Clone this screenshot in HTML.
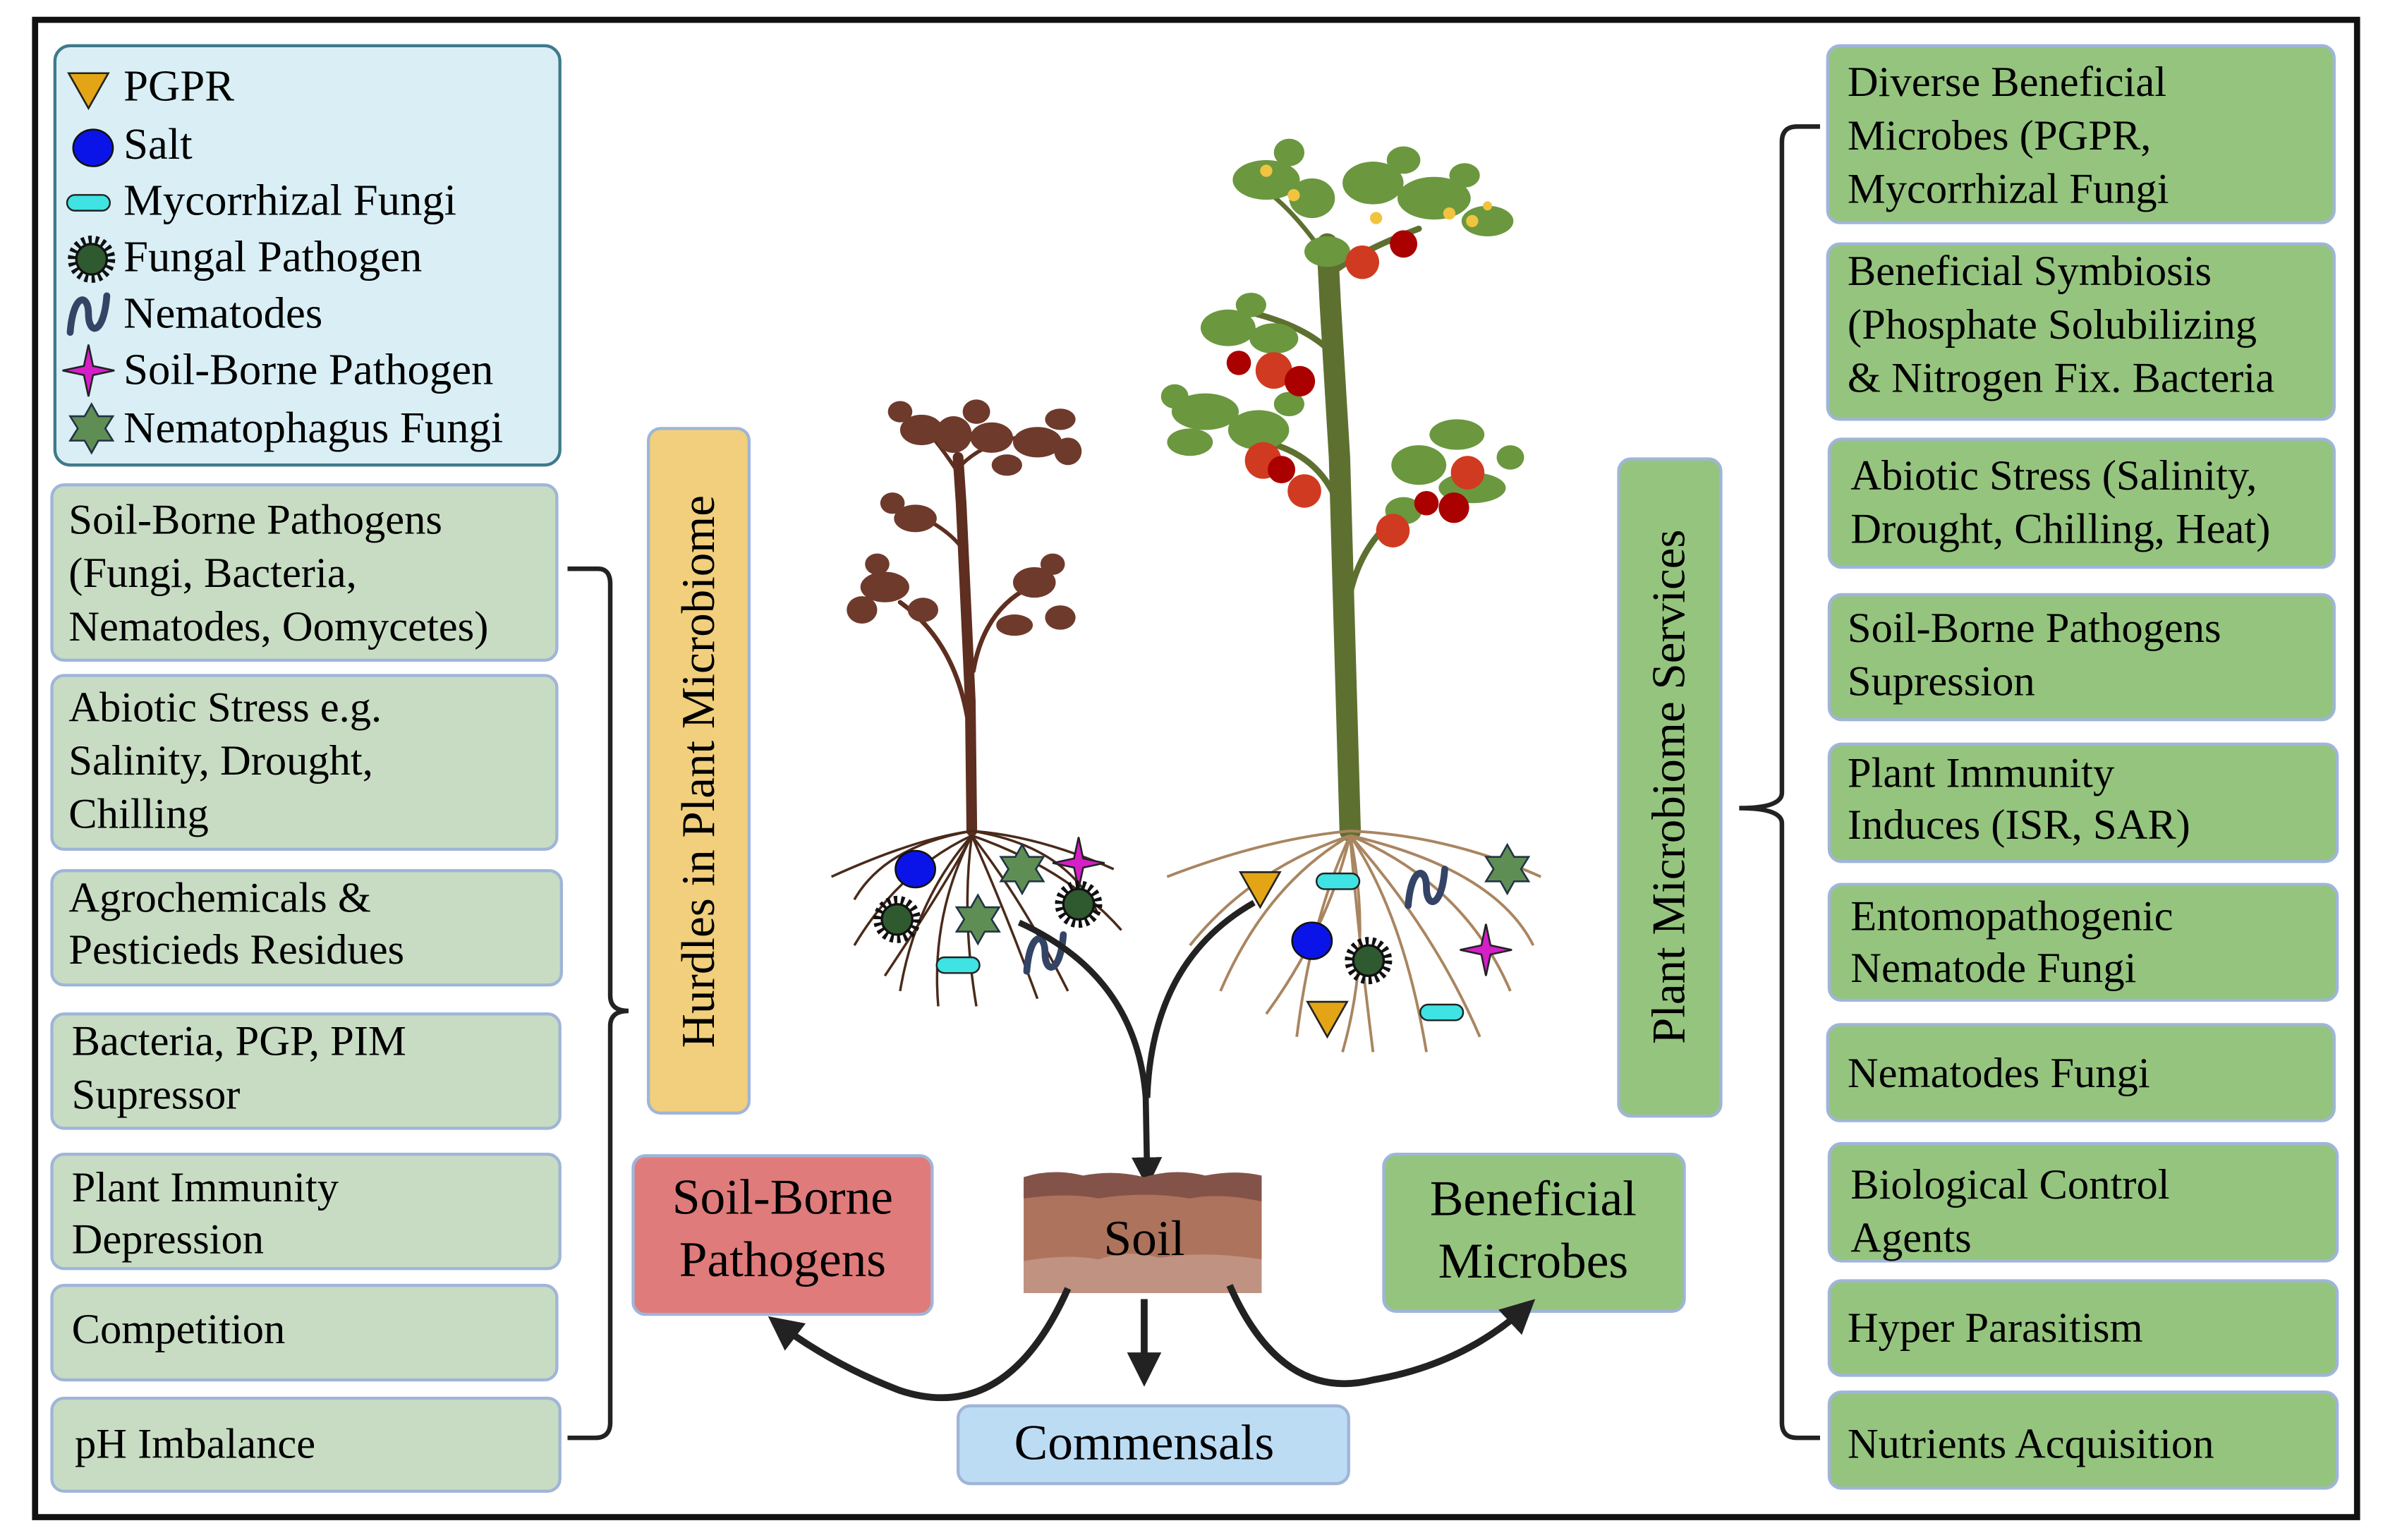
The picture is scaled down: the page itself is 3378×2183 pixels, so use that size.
<!DOCTYPE html>
<html><head><meta charset="utf-8"><style>
html,body{margin:0;padding:0;background:#fff;}
svg{display:block;}
text{font-family:"Liberation Serif",serif;fill:#000;}
</style></head><body>
<svg width="3378" height="2183" viewBox="0 0 1562 1010" preserveAspectRatio="none" xmlns="http://www.w3.org/2000/svg">
<defs>
<symbol id="tri" viewBox="-14 -14 28 28" overflow="visible"><polygon points="-13,-11 13,-11 0,12" fill="#e3a516" stroke="#222" stroke-width="1.2"/></symbol>
<symbol id="salt" viewBox="-14 -14 28 28" overflow="visible"><ellipse cx="0" cy="0" rx="13" ry="12" fill="#0a14e8" stroke="#111" stroke-width="1.2"/></symbol>
<symbol id="myco" viewBox="-16 -6 32 12" overflow="visible"><rect x="-15" y="-5.5" width="30" height="11" rx="5.5" fill="#3fe3e3" stroke="#222" stroke-width="1.2"/></symbol>
<symbol id="fung" viewBox="-16 -16 32 32" overflow="visible"><circle r="12" fill="none" stroke="#111" stroke-width="7" stroke-dasharray="2 2.2"/><circle r="10" fill="#2f5a2f" stroke="#111" stroke-width="1.5"/></symbol>
<symbol id="nema" viewBox="-14 -16 28 32" overflow="visible"><path d="M-12,12 C-10,-14 0,-14 0,0 C0,14 10,14 12,-12" fill="none" stroke="#334466" stroke-width="4.5" stroke-linecap="round"/></symbol>
<symbol id="spark" viewBox="-18 -18 36 36" overflow="visible"><path d="M0,-17 L3,-3 L17,0 L3,3 L0,17 L-3,3 L-17,0 L-3,-3 Z" fill="#d51fc7" stroke="#222" stroke-width="1.2"/></symbol>
<symbol id="star" viewBox="-17 -17 34 34" overflow="visible"><polygon points="0,-16 4.5,-8 14,-8 9,0 14,8 4.5,8 0,16 -4.5,8 -14,8 -9,0 -14,-8 -4.5,-8" fill="#5e8e54" stroke="#234" stroke-width="1.2"/></symbol>
<marker id="ah" viewBox="0 0 10 10" refX="8" refY="5" markerWidth="5" markerHeight="5" orient="auto"><path d="M0,0 L10,5 L0,10 Z" fill="#222"/></marker>
</defs>

<rect x="23" y="13" width="1522" height="982" fill="#fff" stroke="#111" stroke-width="4"/>

<rect x="36" y="30" width="331" height="275" rx="10" fill="#d9eff5" stroke="#3f7a8a" stroke-width="2"/>
<use href="#tri" x="44" y="45" width="28" height="28"/>
<use href="#salt" x="47" y="83" width="28" height="28"/>
<use href="#myco" x="43" y="127" width="30" height="12"/>
<use href="#fung" x="44" y="154" width="32" height="32"/>
<use href="#nema" x="44" y="190" width="28" height="32"/>
<use href="#spark" x="40" y="225" width="36" height="36"/>
<use href="#star" x="43" y="264" width="34" height="34"/>
<g font-size="29">
<text x="81" y="66">PGPR</text>
<text x="81" y="104">Salt</text>
<text x="81" y="141">Mycorrhizal Fungi</text>
<text x="81" y="178">Fungal Pathogen</text>
<text x="81" y="215">Nematodes</text>
<text x="81" y="252">Soil-Borne Pathogen</text>
<text x="81" y="290">Nematophagus Fungi</text>
</g>

<g fill="#c8dcc4" stroke="#9fb5d8" stroke-width="2">
<rect x="34" y="318" width="331" height="115" rx="8"/>
<rect x="34" y="443" width="331" height="114" rx="8"/>
<rect x="34" y="571" width="334" height="75" rx="8"/>
<rect x="34" y="665" width="333" height="75" rx="8"/>
<rect x="34" y="757" width="333" height="75" rx="8"/>
<rect x="34" y="843" width="331" height="62" rx="8"/>
<rect x="34" y="917" width="333" height="61" rx="8"/>
</g>
<g font-size="28">
<text x="45" y="350">Soil-Borne Pathogens</text>
<text x="45" y="385">(Fungi, Bacteria,</text>
<text x="45" y="420">Nematodes, Oomycetes)</text>
<text x="45" y="473">Abiotic Stress e.g.</text>
<text x="45" y="508">Salinity, Drought,</text>
<text x="45" y="543">Chilling</text>
<text x="45" y="598">Agrochemicals &amp;</text>
<text x="45" y="632">Pesticieds Residues</text>
<text x="47" y="692">Bacteria, PGP, PIM</text>
<text x="47" y="727">Supressor</text>
<text x="47" y="788">Plant Immunity</text>
<text x="47" y="822">Depression</text>
<text x="47" y="881">Competition</text>
<text x="49" y="956">pH Imbalance</text>
</g>
<path d="M372,373 L392,373 Q400,373 400,383 L400,653 Q400,663 412,663 Q400,663 400,673 L400,933 Q400,943 390,943 L372,943" fill="none" stroke="#222" stroke-width="3"/>

<rect x="425" y="281" width="66" height="449" rx="8" fill="#f1cf7d" stroke="#9fb5d8" stroke-width="2"/>
<text transform="translate(468,506) rotate(-90)" text-anchor="middle" font-size="31">Hurdles in Plant Microbiome</text>

<rect x="1061" y="301" width="67" height="431" rx="8" fill="#95c47e" stroke="#9fb5d8" stroke-width="2"/>
<text transform="translate(1104,516) rotate(-90)" text-anchor="middle" font-size="31">Plant Microbiome Services</text>

<g fill="#95c47e" stroke="#9fb5d8" stroke-width="2">
<rect x="1198" y="30" width="332" height="116" rx="8"/>
<rect x="1198" y="160" width="332" height="115" rx="8"/>
<rect x="1199" y="288" width="331" height="84" rx="8"/>
<rect x="1199" y="390" width="331" height="82" rx="8"/>
<rect x="1199" y="488" width="333" height="77" rx="8"/>
<rect x="1199" y="580" width="333" height="76" rx="8"/>
<rect x="1198" y="672" width="332" height="63" rx="8"/>
<rect x="1199" y="750" width="333" height="77" rx="8"/>
<rect x="1199" y="840" width="333" height="62" rx="8"/>
<rect x="1199" y="913" width="333" height="63" rx="8"/>
</g>
<g font-size="28">
<text x="1211" y="63">Diverse Beneficial</text>
<text x="1211" y="98">Microbes (PGPR,</text>
<text x="1211" y="133">Mycorrhizal Fungi</text>
<text x="1211" y="187">Beneficial Symbiosis</text>
<text x="1211" y="222">(Phosphate Solubilizing</text>
<text x="1211" y="257">&amp; Nitrogen Fix. Bacteria</text>
<text x="1213" y="321">Abiotic Stress (Salinity,</text>
<text x="1213" y="356">Drought, Chilling, Heat)</text>
<text x="1211" y="421">Soil-Borne Pathogens</text>
<text x="1211" y="456">Supression</text>
<text x="1211" y="516">Plant Immunity</text>
<text x="1211" y="550">Induces (ISR, SAR)</text>
<text x="1213" y="610">Entomopathogenic</text>
<text x="1213" y="644">Nematode Fungi</text>
<text x="1211" y="713">Nematodes Fungi</text>
<text x="1213" y="786">Biological Control</text>
<text x="1213" y="821">Agents</text>
<text x="1211" y="880">Hyper Parasitism</text>
<text x="1211" y="956">Nutrients Acquisition</text>
</g>
<path d="M1193,83 L1178,83 Q1168,83 1168,93 L1168,520 Q1168,530 1140,530 Q1168,530 1168,540 L1168,933 Q1168,943 1178,943 L1193,943" fill="none" stroke="#222" stroke-width="3"/>

<!-- LEFT PLANT -->
<g fill="none" stroke="#5e2e20" stroke-linecap="round">
<path d="M637,545 L636,460 L630,330 L628,300" stroke-width="7"/>
<path d="M634,470 Q625,420 590,395" stroke-width="3"/>
<path d="M638,440 Q645,400 675,385" stroke-width="3"/>
<path d="M631,360 Q620,345 595,335" stroke-width="2.5"/>
<path d="M628,310 Q615,290 605,280" stroke-width="2.5"/>
<path d="M630,305 Q650,285 690,285" stroke-width="2.5"/>
</g>
<g fill="#6e3a2c">
<ellipse cx="604" cy="282" rx="14" ry="10"/><ellipse cx="625" cy="285" rx="12" ry="12"/>
<ellipse cx="650" cy="287" rx="14" ry="10"/><ellipse cx="680" cy="290" rx="16" ry="10"/>
<ellipse cx="700" cy="296" rx="9" ry="9"/><ellipse cx="660" cy="305" rx="10" ry="7"/>
<ellipse cx="590" cy="270" rx="8" ry="7"/><ellipse cx="640" cy="270" rx="9" ry="8"/><ellipse cx="695" cy="275" rx="10" ry="7"/>
<ellipse cx="600" cy="340" rx="14" ry="9"/><ellipse cx="585" cy="330" rx="8" ry="7"/>
<ellipse cx="580" cy="385" rx="16" ry="10"/><ellipse cx="565" cy="400" rx="10" ry="9"/>
<ellipse cx="605" cy="400" rx="10" ry="8"/><ellipse cx="575" cy="370" rx="8" ry="7"/>
<ellipse cx="678" cy="382" rx="14" ry="10"/><ellipse cx="695" cy="405" rx="10" ry="8"/>
<ellipse cx="665" cy="410" rx="12" ry="7"/><ellipse cx="690" cy="370" rx="8" ry="7"/>
</g>

<!-- RIGHT PLANT -->
<g fill="none" stroke="#5e7030" stroke-linecap="round">
<path d="M885,545 L882,440 L878,300 L872,200 L870,160" stroke-width="14"/>
<path d="M880,340 Q870,300 830,290" stroke-width="4"/>
<path d="M876,235 Q860,215 820,205" stroke-width="4"/>
<path d="M883,400 Q890,350 930,330" stroke-width="4"/>
<path d="M872,180 Q890,165 930,150" stroke-width="4"/>
<path d="M870,170 Q850,140 830,125" stroke-width="3"/>
</g>
<g fill="#6b973f">
<ellipse cx="830" cy="118" rx="22" ry="13"/><ellipse cx="860" cy="130" rx="15" ry="13"/>
<ellipse cx="900" cy="120" rx="20" ry="14"/><ellipse cx="940" cy="130" rx="24" ry="14"/>
<ellipse cx="975" cy="145" rx="17" ry="10"/><ellipse cx="870" cy="165" rx="15" ry="10"/>
<ellipse cx="845" cy="100" rx="10" ry="9"/><ellipse cx="920" cy="105" rx="11" ry="9"/><ellipse cx="960" cy="115" rx="10" ry="8"/>
<ellipse cx="805" cy="215" rx="18" ry="12"/><ellipse cx="835" cy="222" rx="16" ry="10"/><ellipse cx="820" cy="200" rx="10" ry="8"/>
<ellipse cx="790" cy="270" rx="22" ry="12"/><ellipse cx="825" cy="282" rx="20" ry="13"/>
<ellipse cx="780" cy="290" rx="15" ry="9"/><ellipse cx="770" cy="260" rx="9" ry="8"/><ellipse cx="845" cy="265" rx="10" ry="8"/>
<ellipse cx="955" cy="285" rx="18" ry="10"/><ellipse cx="930" cy="305" rx="18" ry="13"/>
<ellipse cx="965" cy="320" rx="22" ry="10"/><ellipse cx="920" cy="335" rx="12" ry="9"/><ellipse cx="990" cy="300" rx="9" ry="8"/>
</g>
<g fill="#d03a20">
<circle cx="893" cy="172" r="11"/><circle cx="920" cy="160" r="9" fill="#a00"/>
<circle cx="835" cy="243" r="12"/><circle cx="852" cy="250" r="10" fill="#a00"/><circle cx="812" cy="238" r="8" fill="#a00"/>
<circle cx="828" cy="302" r="12"/><circle cx="855" cy="322" r="11"/><circle cx="840" cy="308" r="9" fill="#a00"/>
<circle cx="962" cy="310" r="11"/><circle cx="953" cy="333" r="10" fill="#a00"/><circle cx="913" cy="348" r="11"/><circle cx="935" cy="330" r="8" fill="#a00"/>
</g>
<g fill="#f1c440">
<circle cx="830" cy="112" r="4"/><circle cx="848" cy="128" r="4"/><circle cx="902" cy="143" r="4"/><circle cx="950" cy="140" r="4"/><circle cx="965" cy="145" r="4"/><circle cx="975" cy="135" r="3"/>
</g>

<!-- roots -->
<g fill="none" stroke="#4a2a1a" stroke-width="1.6">
<path d="M637,545 Q600,550 545,575"/><path d="M637,545 Q680,548 730,570"/>
<path d="M637,548 Q590,570 560,620"/><path d="M637,548 Q600,590 590,650"/>
<path d="M637,548 Q630,600 640,660"/><path d="M637,548 Q670,590 700,650"/>
<path d="M637,548 Q700,570 735,610"/><path d="M637,548 Q620,580 580,640"/>
<path d="M637,548 Q660,600 680,655"/><path d="M637,545 Q580,555 560,590"/>
<path d="M637,545 Q700,555 720,600"/><path d="M637,548 Q610,600 615,660"/>
</g>
<g fill="none" stroke="#a98560" stroke-width="1.8">
<path d="M885,545 Q830,550 765,575"/><path d="M885,545 Q950,548 1010,575"/>
<path d="M885,548 Q830,580 800,650"/><path d="M885,548 Q860,600 850,680"/>
<path d="M885,548 Q890,610 900,690"/><path d="M885,548 Q920,600 935,690"/>
<path d="M885,548 Q960,580 990,650"/><path d="M885,548 Q980,570 1005,620"/>
<path d="M885,548 Q820,570 780,620"/><path d="M885,548 Q870,610 830,665"/>
<path d="M885,548 Q940,610 970,680"/><path d="M885,548 Q900,620 880,690"/>
</g>

<use href="#salt" x="586" y="556" width="28" height="28"/>
<use href="#star" x="653" y="553" width="34" height="34"/>
<use href="#spark" x="689" y="548" width="36" height="36"/>
<use href="#fung" x="572" y="587" width="32" height="32"/>
<use href="#star" x="624" y="586" width="34" height="34"/>
<use href="#fung" x="691" y="577" width="32" height="32"/>
<use href="#myco" x="613" y="627" width="30" height="12"/>
<use href="#nema" x="671" y="609" width="28" height="32"/>
<use href="#tri" x="812" y="569" width="28" height="28"/>
<use href="#myco" x="862" y="572" width="30" height="12"/>
<use href="#nema" x="921" y="566" width="28" height="32"/>
<use href="#star" x="971" y="553" width="34" height="34"/>
<use href="#salt" x="846" y="603" width="28" height="28"/>
<use href="#fung" x="881" y="614" width="32" height="32"/>
<use href="#spark" x="956" y="605" width="36" height="36"/>
<use href="#tri" x="856" y="654" width="28" height="28"/>
<use href="#myco" x="930" y="658" width="30" height="12"/>

<g fill="none" stroke="#222" stroke-width="4">
<path d="M668,605 Q745,640 751,720 L752,775" marker-end="url(#ah)"/>
<path d="M822,592 Q755,630 752,720"/>
</g>

<rect x="415" y="758" width="196" height="104" rx="8" fill="#e07b7b" stroke="#9fb5d8" stroke-width="2"/>
<text x="513" y="796" text-anchor="middle" font-size="33">Soil-Borne</text>
<text x="513" y="837" text-anchor="middle" font-size="33">Pathogens</text>

<rect x="671" y="775" width="156" height="73" fill="#ad735c"/>
<path d="M671,772 Q690,766 710,771 Q730,767 750,772 Q770,766 790,771 Q810,767 827,771 L827,788 Q800,782 780,786 Q750,781 720,786 Q700,782 671,786 Z" fill="#83534a"/>
<path d="M671,827 Q700,822 720,826 Q740,819 760,825 Q790,820 827,826 L827,848 L671,848 Z" fill="#c09281"/>
<text x="750" y="823" text-anchor="middle" font-size="33">Soil</text>

<rect x="907" y="757" width="197" height="103" rx="8" fill="#95c47e" stroke="#9fb5d8" stroke-width="2"/>
<text x="1005" y="797" text-anchor="middle" font-size="33">Beneficial</text>
<text x="1005" y="838" text-anchor="middle" font-size="33">Microbes</text>

<rect x="628" y="922" width="256" height="51" rx="8" fill="#bcdcf4" stroke="#9fb5d8" stroke-width="2"/>
<text x="750" y="957" text-anchor="middle" font-size="33">Commensals</text>

<g fill="none" stroke="#222" stroke-width="4.5">
<path d="M700,845 Q660,935 590,912 Q545,895 507,866" marker-end="url(#ah)"/>
<path d="M750,852 L750,905" marker-end="url(#ah)"/>
<path d="M806,843 Q840,920 900,905 Q960,895 1003,855" marker-end="url(#ah)"/>
</g>
</svg>
</body></html>
